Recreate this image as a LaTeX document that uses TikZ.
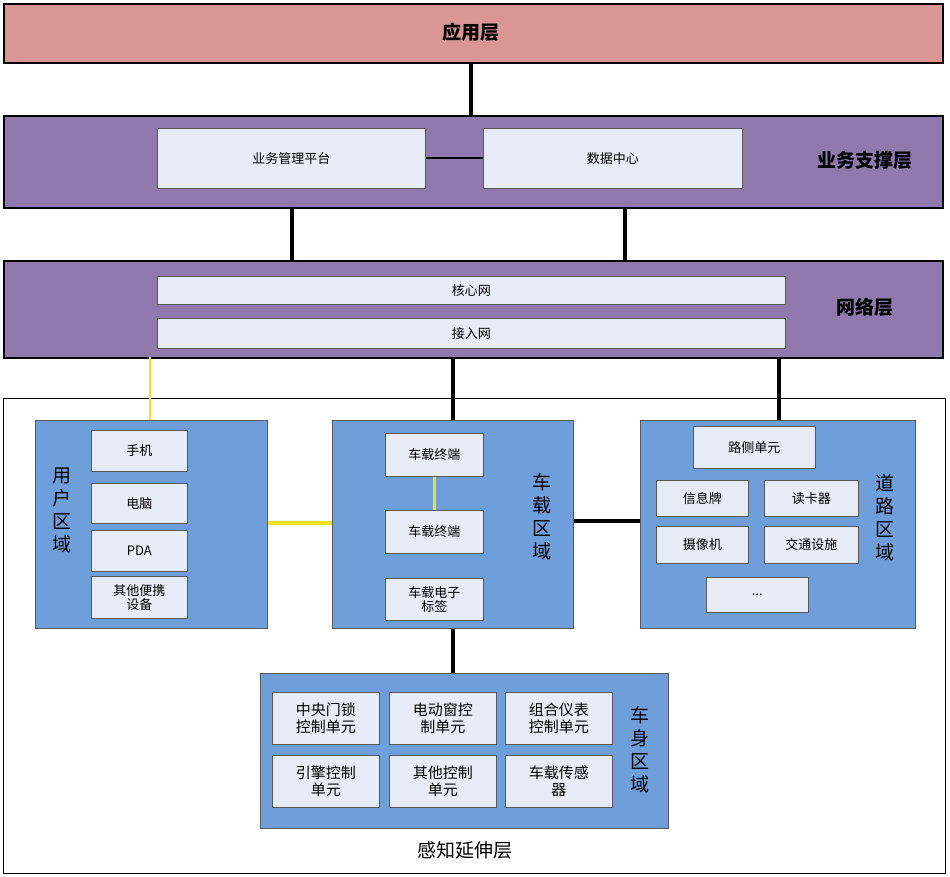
\documentclass[tikz,border=0pt]{standalone}
\usepackage{fontspec}
\setmainfont{Noto Sans CJK SC}
\begin{document}
\begin{tikzpicture}[x=1pt,y=-1pt,
  layer/.style={draw=black,line width=2pt},
  inbox/.style={draw=gray!70!black,fill=inner,line width=0.5pt,font=\fontsize{13}{15}\selectfont,align=center,inner sep=0pt},
  region/.style={draw=gray!70!black,fill=reg,line width=0.6pt},
  conn/.style={line width=3.5pt},
  yconn/.style={line width=3.5pt,draw=yel},
  lbl/.style={font=\fontsize{19}{21}\selectfont\bfseries},
  vlbl/.style={font=\fontsize{19}{23}\selectfont,align=center}]
\definecolor{app}{HTML}{D99694}
\definecolor{pur}{HTML}{9079AD}
\definecolor{inner}{HTML}{E8ECF6}
\definecolor{reg}{HTML}{6F9FDB}
\definecolor{yel}{HTML}{F2E21C}
\useasboundingbox (0,0) rectangle (950,877);
% layers
\node[layer,fill=app,minimum width=939,minimum height=59,inner sep=0,anchor=north west] (app) at (3,3) {};
\node[lbl] at (471,32) {应用层};
\node[layer,fill=pur,minimum width=939,minimum height=92,inner sep=0,anchor=north west] (biz) at (3,115) {};
\node[lbl] at (865,160) {业务支撑层};
\node[layer,fill=pur,minimum width=939,minimum height=97,inner sep=0,anchor=north west] (net) at (3,260) {};
\node[lbl] at (865,307) {网络层};
\node[draw=black,line width=1.2pt,minimum width=942,minimum height=475,inner sep=0,anchor=north west] (per) at (3,398) {};
\node[lbl,font=\fontsize{19}{21}\selectfont] at (465,850) {感知延伸层};
% biz boxes
\node[inbox,minimum width=268,minimum height=60,anchor=north west] (bmp) at (157,128) {业务管理平台};
\node[inbox,minimum width=259,minimum height=60,anchor=north west] (dc) at (483,128) {数据中心};
\draw[line width=2.5pt] (bmp.east) -- (dc.west);
\node[inbox,minimum width=628,minimum height=28,anchor=north west] (core) at (157,276) {核心网};
\node[inbox,minimum width=628,minimum height=30,anchor=north west] (acc) at (157,318) {接入网};
% top links
\draw[conn] (471,62) -- (471,115);
\draw[conn] (292,207) -- (292,260);
\draw[conn] (625,207) -- (625,260);
% regions
\node[region,minimum width=232,minimum height=208,inner sep=0,anchor=north west] (user) at (35,420) {};
\node[vlbl] at (62,510) {用\\户\\区\\域};
\node[inbox,minimum width=96,minimum height=41,anchor=north west] (u1) at (91,430) {手机};
\node[inbox,minimum width=96,minimum height=40,anchor=north west] (u2) at (91,483) {电脑};
\node[inbox,minimum width=96,minimum height=41,anchor=north west] (u3) at (91,530) {PDA};
\node[inbox,minimum width=96,minimum height=42,anchor=north west,font=\fontsize{13}{14}\selectfont] (u4) at (91,576) {其他便携\\设备};
\node[region,minimum width=241,minimum height=208,inner sep=0,anchor=north west] (veh) at (332,420) {};
\node[vlbl] at (542,517) {车\\载\\区\\域};
\node[inbox,minimum width=98,minimum height=43,anchor=north west] (v1) at (385,433) {车载终端};
\node[inbox,minimum width=98,minimum height=43,anchor=north west] (v2) at (385,510) {车载终端};
\node[inbox,minimum width=98,minimum height=42,anchor=north west,font=\fontsize{13}{14}\selectfont] (v3) at (385,578) {车载电子\\标签};
\draw[yconn] (v1.south) -- (v2.north);
\node[region,minimum width=275,minimum height=208,inner sep=0,anchor=north west] (road) at (640,420) {};
\node[vlbl] at (885,518) {道\\路\\区\\域};
\node[inbox,minimum width=122,minimum height=42,anchor=north west] (r1) at (693,426) {路侧单元};
\node[inbox,minimum width=92,minimum height=36,anchor=north west] (r2) at (656,480) {信息牌};
\node[inbox,minimum width=94,minimum height=36,anchor=north west] (r3) at (764,480) {读卡器};
\node[inbox,minimum width=92,minimum height=37,anchor=north west] (r4) at (656,526) {摄像机};
\node[inbox,minimum width=94,minimum height=37,anchor=north west] (r5) at (764,526) {交通设施};
\node[inbox,minimum width=102,minimum height=35,anchor=north west] (r6) at (706,577) {...};
\node[region,minimum width=408,minimum height=155,inner sep=0,anchor=north west] (body) at (260,673) {};
\node[vlbl] at (640,750) {车\\身\\区\\域};
\foreach \t/\x/\y [count=\i] in {中央门锁\\控制单元/272/692, 电动窗控\\制单元/389/692, 组合仪表\\控制单元/505/692, 引擎控制\\单元/272/755, 其他控制\\单元/389/755, 车载传感\\器/505/755}
  \node[inbox,minimum width=107,minimum height=52,anchor=north west,font=\fontsize{15}{17}\selectfont] (b\i) at (\x,\y) {\t};
% links
\draw[yconn,line width=2.5pt] (150,357) -- (150,420);
\draw[conn] (453,357) -- (453,420);
\draw[conn] (779,357) -- (779,420);
\draw[yconn] (user.east |- 0,523) -- (veh.west |- 0,523);
\draw[conn] (veh.east |- 0,521) -- (road.west |- 0,521);
\draw[conn] (veh.south -| 453,0) -- (body.north -| 453,0);
\end{tikzpicture}
\end{document}
